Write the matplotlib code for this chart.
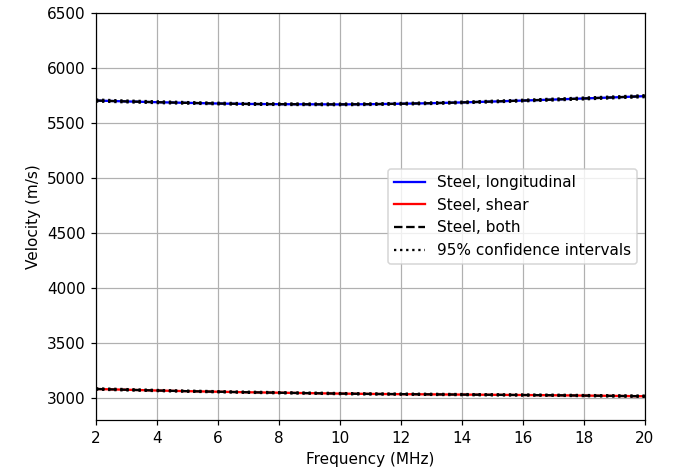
import numpy as np
import matplotlib
matplotlib.use("Agg")
import matplotlib.pyplot as plt

# frequencies (MHz) and velocities (m/s)
freq = [2, 3, 4, 5, 6, 7, 8, 9, 10, 11, 12, 13, 14, 15, 16, 17, 18, 19, 20]
v_long = [5705, 5697, 5690, 5684, 5678, 5674, 5672, 5671, 5670, 5672,
          5676, 5681, 5688, 5696, 5705, 5714, 5724, 5734, 5745]
v_shear = [3082, 3075, 3068, 3062, 3057, 3052, 3048, 3044, 3040, 3037,
           3035, 3033, 3031, 3029, 3027, 3025, 3022, 3019, 3016]
ci_long = [9, 8, 8, 7, 7, 7, 7, 7, 7, 7, 7, 7, 7, 7, 7, 8, 8, 8, 9]
ci_shear = [6, 6, 5, 5, 5, 5, 5, 5, 5, 5, 5, 5, 5, 5, 5, 5, 5, 6, 6]

f = np.array(freq)
vl, vs = np.array(v_long), np.array(v_shear)
cl, cs = np.array(ci_long), np.array(ci_shear)

dpi = 110
fig = plt.figure(figsize=(676 / dpi, 469 / dpi), dpi=dpi)
ax = fig.add_axes((0.142, 0.1045, 0.812, 0.8675))

ax.plot(f, vl, color='blue', lw=1.5, label='Steel, longitudinal')
ax.plot(f, vs, color='red', lw=1.5, label='Steel, shear')
ax.plot(f, vl, 'k--', lw=1.5, label='Steel, both')
ax.plot(f, vs, 'k--', lw=1.5)
ax.plot(f, vl + cl, 'k:', lw=1.5, label='95% confidence intervals')
ax.plot(f, vl - cl, 'k:', lw=1.5)
ax.plot(f, vs + cs, 'k:', lw=1.5)
ax.plot(f, vs - cs, 'k:', lw=1.5)

ax.set_xlim(2, 20)
ax.set_ylim(2800, 6500)
ax.set_xticks(np.arange(2, 21, 2))
ax.set_yticks(np.arange(3000, 6501, 500))
ax.grid(True)
ax.set_xlabel('Frequency (MHz)')
ax.set_ylabel('Velocity (m/s)')
ax.legend(loc='center right')

plt.savefig('out.png', dpi=dpi)
